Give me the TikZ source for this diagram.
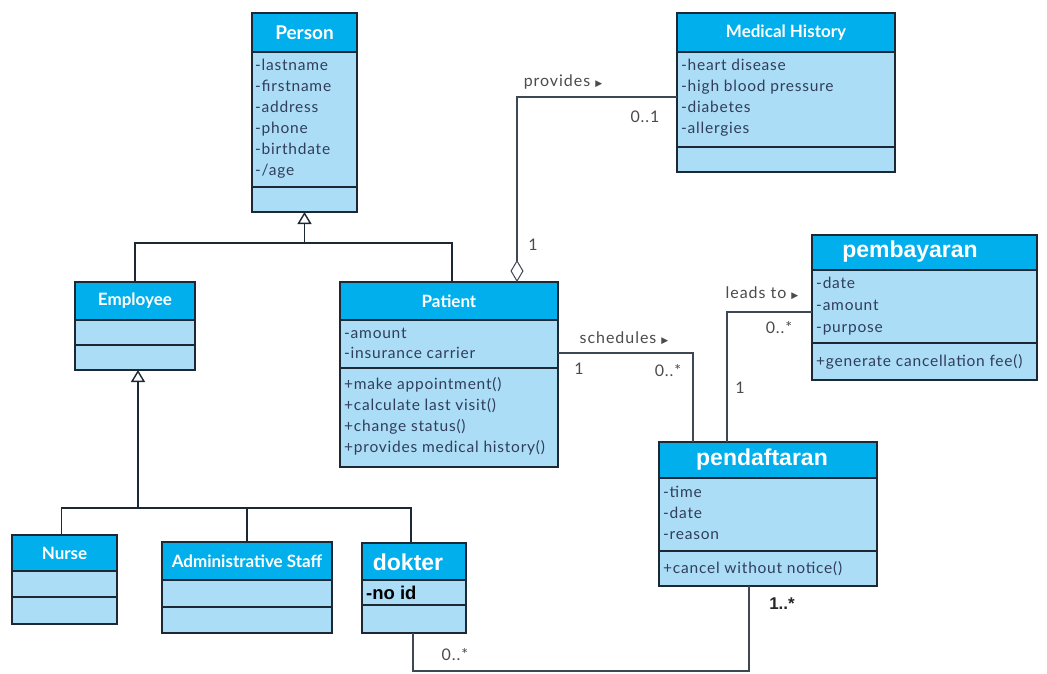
\documentclass[tikz,border=0pt]{standalone}
\usepackage{fontspec}
\setmainfont{Lato}
\newfontfamily\attrf[LetterSpace=5]{Lato}
\newfontfamily\labf[LetterSpace=6]{Lato}
\newfontfamily\arialf{Liberation Sans}
\newfontfamily\dejavu{DejaVu Sans}
\usetikzlibrary{arrows.meta}
\definecolor{hdrc}{RGB}{0,175,236}
\definecolor{bodyc}{RGB}{172,221,246}
\definecolor{linec}{RGB}{28,40,52}
\definecolor{attrc}{RGB}{48,62,92}
\definecolor{labc}{RGB}{75,75,75}
\tikzset{
  classbox/.style={draw=linec, line width=1.8pt, inner sep=0pt, outer sep=0pt},
  sepline/.style={draw=linec, line width=1.6pt},
  hdrtext/.style={text=white, font=\bfseries\fontsize{17}{19}\selectfont, inner sep=0pt},
  bighdr/.style={text=white, font=\arialf\bfseries\fontsize{23}{26}\selectfont, inner sep=0pt},
  attr/.style={text=attrc, font=\attrf\fontsize{15.5}{21}\selectfont, inner sep=0pt},
  lab/.style={text=labc, font=\labf\fontsize{16}{18}\selectfont, inner sep=0pt},
  genline/.style={draw=linec, line width=1.5pt},
  gentip/.style={genline, -{Triangle[open, length=12pt, width=14pt, line width=1.4pt]}},
  assoc/.style={draw=linec!85, line width=1.2pt},
}
\newcommand\umlclass[8]{%
  \fill[hdrc] (#2,#3) rectangle (#4,#5);
  \fill[bodyc] (#2,#5) rectangle (#4,#7);
  \draw[sepline] (#2,#5) -- (#4,#5);
  \draw[sepline] (#2,#6) -- (#4,#6);
  \node[classbox, minimum width={(#4-#2)*1pt}, minimum height={(#7-#3)*1pt}, anchor=north west] (#1) at (#2,#3) {};
  \node[hdrtext] (#1-title) at ({(#2+#4)/2},{(#3+#5)/2}) {#8};
}
\newcommand\umllines[5]{%
  \foreach \t [count=\i] in {#5} {
    \node[attr, anchor=base west] (#1-\i) at (#2,{#3+(\i-1)*#4}) {\t};
  }
}
\begin{document}
\begin{tikzpicture}[x=1pt, y=-1pt]
\path[use as bounding box] (0,0) rectangle (1047,673);

% classes
\umlclass{person}{252}{13}{357}{52}{187}{212}{\fontsize{19}{21}\selectfont Person}
\umllines{person-a}{255}{70}{21}{-lastname,-firstname,-address,-phone,-birthdate,-/age}

\umlclass{medhist}{677}{13}{895}{52}{147}{172}{Medical History}
\umllines{medhist-a}{681}{70}{21.3}{-heart disease,-high blood pressure,-diabetes,-allergies}

\umlclass{employee}{75}{282}{195}{320}{345}{370}{Employee}

\umlclass{patient}{340}{282}{558}{320}{368}{467}{Patient}
\umllines{patient-a}{344}{338}{20.5}{-amount,-insurance carrier}
\umllines{patient-m}{344}{389}{21}{+make appointment(),+calculate last visit(),+change status(),+provides medical history()}

\umlclass{bayar}{812}{235}{1037}{270}{343}{380}{}
\node[bighdr] (bayar-t) at (910,252) {pembayaran};
\umllines{bayar-a}{816}{288}{22}{-date,-amount,-purpose}
\umllines{bayar-m}{816}{366}{21}{+generate cancellation fee()}

\umlclass{daftar}{659}{442}{877}{478}{551}{586}{}
\node[bighdr] (daftar-t) at (762,460) {pendaftaran};
\umllines{daftar-a}{663}{497}{21}{-time,-date,-reason}
\umllines{daftar-m}{663}{573}{21}{+cancel without notice()}

\umlclass{nurse}{12}{535}{117}{571}{597}{624}{Nurse}
\umlclass{admin}{162}{542}{332}{580}{607}{633}{Administrative Staff}
\umlclass{dokter}{362}{543}{466}{580}{605}{633}{}
\node[bighdr] (dokter-t) at (408,562) {dokter};
\node[text=black, font=\arialf\bfseries\fontsize{18.5}{20}\selectfont, inner sep=0pt, anchor=base west] (dokter-a) at (366,599) {-no id};

% generalization Person
\coordinate (j1) at (person.south |- 0,243);
\draw[genline] (employee.north) |- (j1) -| ([xshift=3pt]patient.north);
\draw[gentip] (j1) -- (person.south);

% generalization Employee
\coordinate (j2) at ([xshift=3pt]employee.south |- 0,508);
\draw[genline] ([xshift=-3pt]nurse.north) |- (j2) -| ([xshift=-3pt]dokter.north);
\draw[genline] (admin.north) -- (admin.north |- j2);
\draw[gentip] (j2) -- ([xshift=3pt]employee.south);

% aggregation provides
\draw[assoc, -{Diamond[open, fill=white, length=22pt, width=13pt, line width=1pt]}] ([yshift=-4.5pt]medhist.west) -| ([xshift=68pt]patient.north);
\node[lab] (l-prov) at (563,82) {provides \dejavu\fontsize{9}{10}\selectfont ▶};
\node[lab] (l-01) at (645,117) {0..1};
\node[lab] (l-1a) at (533,245) {1};

% schedules
\draw[assoc] ([yshift=21.5pt]patient.east) -| ([xshift=-75pt]daftar.north);
\node[lab] (l-sch) at (624,338) {schedules \dejavu\fontsize{9}{10}\selectfont ▶};
\node[lab] (l-1b) at (579,369) {1};
\node[lab] (l-0s1) at (668,371) {0..*};

% leads to
\draw[assoc] ([yshift=-4.5pt]bayar.west) -| ([xshift=-41pt]daftar.north);
\node[lab] (l-lead) at (762,293) {leads to \dejavu\fontsize{9}{10}\selectfont ▶};
\node[lab] (l-0s2) at (779,328) {0..*};
\node[lab] (l-1c) at (740,388) {1};

% dokter - pendaftaran
\coordinate (b1) at ([xshift=-1pt]dokter.south |- 0,671);
\draw[assoc] ([xshift=-1pt]dokter.south) -- (b1) -| ([xshift=-19pt]daftar.south);
\node[text=black!85, font=\arialf\bfseries\fontsize{17}{19}\selectfont, inner sep=0pt] (l-1s) at (782,604) {1..*};
\node[lab] (l-0s3) at (455,655) {0..*};
\end{tikzpicture}
\end{document}
